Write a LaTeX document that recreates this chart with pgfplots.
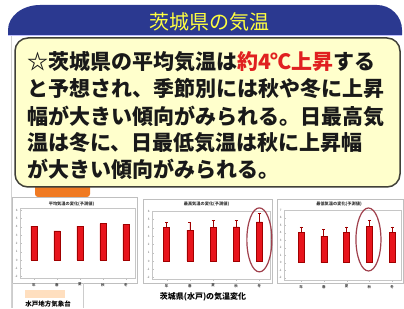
\documentclass[border=0pt]{standalone}
\usepackage{pgfplots}
\pgfplotsset{compat=1.18}
\usepackage{fontspec}
\setmainfont{Noto Sans CJK JP}
\newfontfamily\jp{Noto Sans CJK JP}
\definecolor{bannerblue}{HTML}{2B3990}
\definecolor{titleyellow}{HTML}{FFFF40}
\definecolor{boxfill}{HTML}{FFFFCC}
\definecolor{boxedge}{HTML}{404038}
\definecolor{barred}{HTML}{E8141C}
\definecolor{bardark}{HTML}{A00000}
\definecolor{ellcol}{HTML}{A0404C}
\definecolor{tabor}{HTML}{F07A22}
\definecolor{txtred}{HTML}{E02020}
\pgfplotsset{
  mini/.style={
    scale only axis, ybar, bar width=6pt, clip=false, anchor=south west,
    xtick={0,1,2,3,4}, xticklabels={年,春,夏,秋,冬},
    ytick distance=1,
    xticklabel style={font=\jp\bfseries\fontsize{3.5}{4}\selectfont, text=black!70},
    yticklabel style={font=\fontsize{3}{3.5}\selectfont, text=black!60},
    /pgf/number format/assume math mode=true,
    axis line style={gray!45, line width=0.4pt},
    tick style={gray!50}, major tick length=1.5pt,
    xtick pos=bottom, ytick pos=left,
    xticklabel shift=0pt, yticklabel shift=-1pt,
  },
  barsty/.style={fill=barred, draw=bardark, line width=0.6pt},
  errsty/.style={error bars/.cd, y dir=plus, y explicit,
    error bar style={bardark, line width=0.7pt},
    error mark options={bardark, mark size=1.5pt, rotate=90}},
}
\begin{document}
\begin{tikzpicture}
\begin{scope}[x=1pt,y=1pt]
\path[use as bounding box] (0,0) rectangle (404,308);
\fill[white] (0,0) rectangle (404,308);
\draw[gray!35, line width=0.8pt] (11,272) -- (11,0);
% banner
\fill[bannerblue] (8,273) -- (8,278) arc[start angle=180,end angle=90,x radius=32,y radius=25]
  -- (377,303) arc[start angle=90,end angle=0,x radius=25,y radius=25] -- (402,273) -- cycle;
\draw[blue!25, line width=1.2pt] (8,272.2) -- (402,272.2);
\node[font=\jp\fontsize{20}{20}\selectfont, text=titleyellow] at (209,286) {茨城県の気温};
% orange tab and yellow box
\fill[tabor, rounded corners=3pt] (35,126) rectangle (90,111);
\draw[fill=boxfill, draw=boxedge, line width=1.5pt, rounded corners=13pt] (15,270) rectangle (400,121);
\begin{scope}[every node/.style={anchor=base west, inner sep=0pt, font=\jp\bfseries\fontsize{21}{21}\selectfont, text=black!90}]
\node at (27,238) {☆茨城県の平均気温は\textcolor{txtred}{約4℃上昇}する};
\node at (27,211) {と予想され、季節別には秋や冬に上昇};
\node at (27,183) {幅が大きい傾向がみられる。日最高気};
\node at (27,157) {温は冬に、日最低気温は秋に上昇幅};
\node at (27,130) {が大きい傾向がみられる。};
\end{scope}
% chart frames
\draw[gray!50, fill=white, line width=0.6pt] (12,111) rectangle (137,25);
\draw[gray!50, fill=white, line width=0.6pt] (143,109) rectangle (272,25);
\draw[gray!50, fill=white, line width=0.6pt] (277,109) rectangle (403,25);
\begin{scope}[every node/.style={font=\jp\bfseries\fontsize{4.2}{5}\selectfont, text=black!80}]
\node at (71.5,104) {平均気温の変化(予測値)};
\node at (206.5,104) {最高気温の変化(予測値)};
\node at (339,104) {最低気温の変化(予測値)};
\end{scope}
% caption and bottom-left
\node[font=\jp\bfseries\fontsize{8}{8}\selectfont] at (203,11) {茨城県(水戸)の気温変化};
\draw[gray!40, line width=0.6pt] (12,25) -- (12,0);
\draw[gray!40, line width=0.6pt] (83,25) -- (83,0);
\fill[orange!25] (25,18) rectangle (65,10);
\node[font=\jp\bfseries\fontsize{6.5}{6.5}\selectfont] at (48,4) {水戸地方気象台};
\end{scope}
% chart 1
\begin{axis}[mini, at={(20pt,30pt)}, width=115pt, height=70pt,
  xmin=-0.6, xmax=4.4, ymin=-2.17, ymax=6.27]
\addplot[barsty] coordinates {(0,4.1) (1,3.5) (2,4.1) (3,4.4) (4,4.3)};
\end{axis}
% chart 2
\begin{axis}[mini, at={(152pt,29pt)}, width=118pt, height=68pt,
  xmin=-0.635, xmax=4.46, ymin=-2.17, ymax=6.0]
\addplot[barsty, errsty] coordinates {(0,4.0) +- (0,0.6) (1,3.7) +- (0,0.9) (2,4.0) +- (0,0.9) (3,4.1) +- (0,0.8) (4,4.7) +- (0,1.0)};
\draw[ellcol, line width=1.2pt] (axis cs:4,2.53) ellipse [x radius=12.5pt, y radius=32pt];
\end{axis}
% chart 3
\begin{axis}[mini, at={(284pt,28pt)}, width=117pt, height=70pt,
  xmin=-0.75, xmax=4.39, ymin=-2.3, ymax=7.03]
\addplot[barsty, errsty] coordinates {(0,4.05) +- (0,0.75) (1,3.56) +- (0,0.9) (2,4.05) +- (0,0.75) (3,4.8) +- (0,0.9) (4,4.0) +- (0,0.8)};
\draw[ellcol, line width=1.2pt] (axis cs:2.96,3.1) ellipse [x radius=12.5pt, y radius=31.5pt];
\end{axis}
\end{tikzpicture}
\end{document}
